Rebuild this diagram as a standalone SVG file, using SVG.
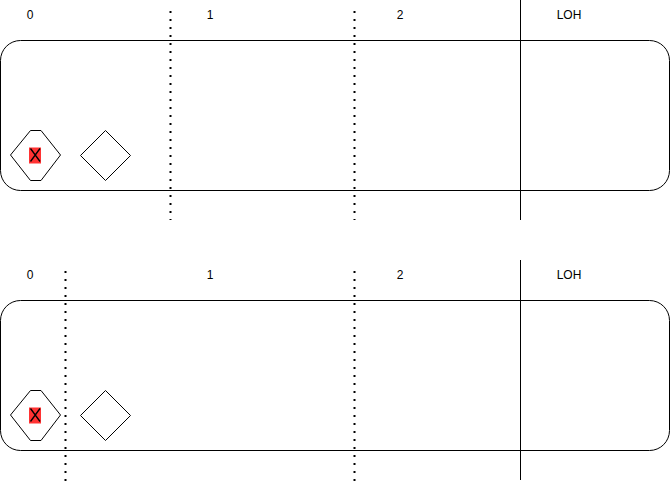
<svg xmlns="http://www.w3.org/2000/svg" width="671" height="483" viewBox="0 0 671 483">
<style>
.lane{fill:#fff;stroke:#000;stroke-width:1}
.dot{stroke:#000;stroke-width:2;stroke-dasharray:2 6;fill:none}
.sol{stroke:#000;stroke-width:1;fill:none}
.shape{fill:#fff;stroke:#000;stroke-width:1}
.red{fill:#f33;stroke:none}
.x{stroke:#000;stroke-width:1.3;fill:none}
text{font-family:"Liberation Sans",Arial,sans-serif;font-size:12px;fill:#000;text-anchor:middle}
</style>
<rect width="671" height="483" fill="#fff"/>
<g id="pool1">
<rect class="lane" x="0.5" y="40.5" width="669" height="150" rx="20" ry="20"/>
</g>
<g id="pool2">
<rect class="lane" x="0.5" y="300.5" width="669" height="150" rx="20" ry="20"/>
</g>
<g id="connectors">
<line class="dot" x1="170.5" y1="11" x2="170.5" y2="220"/>
<line class="dot" x1="354.5" y1="11" x2="354.5" y2="220"/>
<line class="sol" x1="520.5" y1="0" x2="520.5" y2="220"/>
<line class="dot" x1="65.5" y1="271" x2="65.5" y2="481"/>
<line class="dot" x1="354.5" y1="271" x2="354.5" y2="481"/>
<line class="sol" x1="520.5" y1="260" x2="520.5" y2="480"/>
</g>
<g id="labels1">
<text x="30" y="19">0</text>
<text x="210" y="19">1</text>
<text x="400" y="19">2</text>
<text x="569" y="19">LOH</text>
</g>
<g id="labels2">
<text x="30" y="279">0</text>
<text x="210" y="279">1</text>
<text x="400" y="279">2</text>
<text x="569" y="279">LOH</text>
</g>
<g id="hex1">
<polygon class="shape" points="10.5,155 30.5,130.5 41,130.5 60.5,155 41,180.5 30.5,180.5"/>
<rect class="red" x="29" y="147.5" width="12" height="16"/>
<path class="x" d="M30.5,148.5 L40,161.5 M40,148.5 L30.5,161.5"/>
</g>
<g id="diamond1">
<polygon class="shape" points="105.5,130.5 130.5,155.5 105.5,180.5 80.5,155.5"/>
</g>
<g id="hex2">
<polygon class="shape" points="10.5,415 30.5,390.5 41,390.5 60.5,415 41,440.5 30.5,440.5"/>
<rect class="red" x="29" y="407.5" width="12" height="16"/>
<path class="x" d="M30.5,408.5 L40,421.5 M40,408.5 L30.5,421.5"/>
</g>
<g id="diamond2">
<polygon class="shape" points="105.5,390.5 130.5,415.5 105.5,440.5 80.5,415.5"/>
</g>
</svg>
